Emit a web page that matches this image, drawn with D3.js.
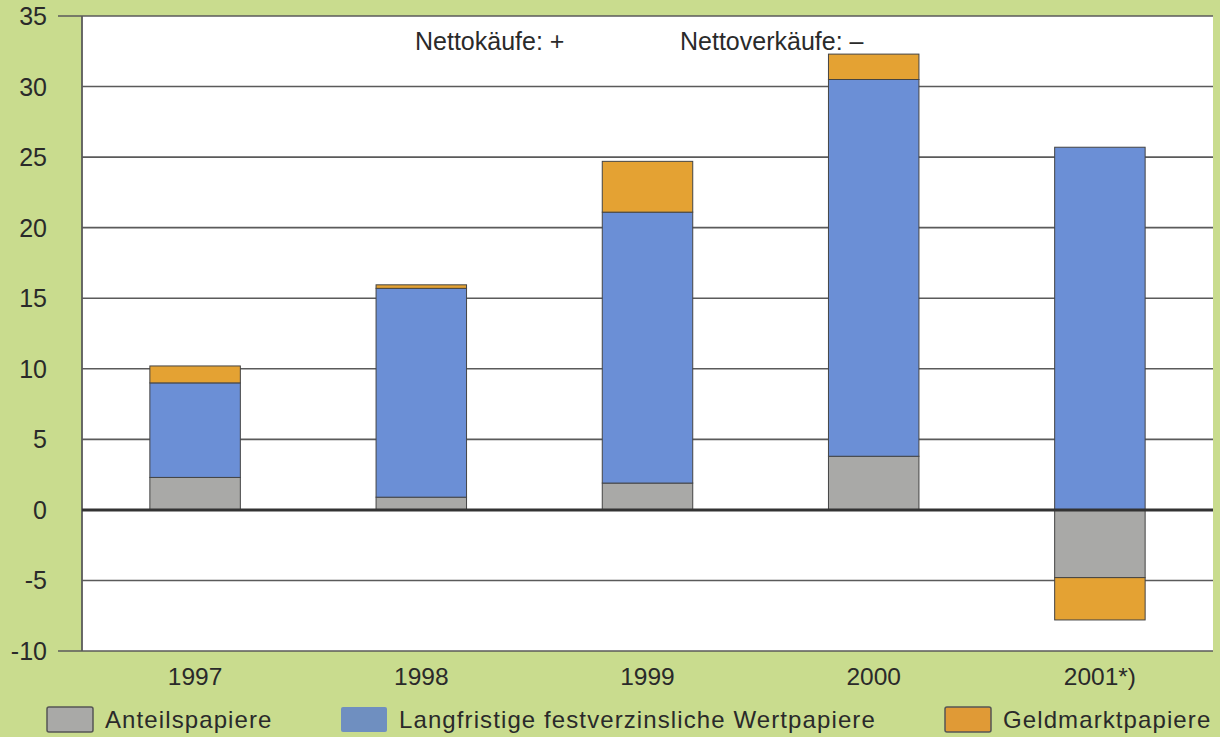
<!DOCTYPE html>
<html>
<head>
<meta charset="utf-8">
<script src="https://cdn.jsdelivr.net/npm/d3@7"></script>
<style>
  html, body { margin: 0; padding: 0; background: #c9dc8e; }
  svg { display: block; }
  text { font-family: "Liberation Sans", Arial, Helvetica, sans-serif; fill: #2a2a2a; }
</style>
</head>
<body>
<svg id="chart" width="1220" height="737"></svg>
<script>
// Net purchases by security type, billions
const years = ["1997", "1998", "1999", "2000", "2001*)"];
const anteilspapiere = [2.3, 0.9, 1.9, 3.8, -4.8];
const langfristige = [6.7, 14.8, 19.2, 26.7, 25.7];
const geldmarkt = [1.2, 0.25, 3.6, 1.8, -3.0];
const yTicks = [-10, -5, 0, 5, 10, 15, 20, 25, 30, 35];

const seriesNames = ["Anteilspapiere", "Langfristige festverzinsliche Wertpapiere", "Geldmarktpapiere"];
const seriesColors = ["#a9a9a7", "#6b8fd6", "#e4a233"];
const legendColors = ["#a9a9a7", "#6f8fc0", "#e09a36"];

const svg = d3.select("#chart");
const plotLeft = 82, plotRight = 1213, plotTop = 16, plotBottom = 651;

const x = d3.scaleBand().domain(years).range([plotLeft, plotRight]).paddingInner(0.6).paddingOuter(0.3);
const y = d3.scaleLinear().domain([-10, 35]).range([plotBottom, plotTop]);

// plot background
svg.append("rect").attr("x", plotLeft).attr("y", plotTop)
  .attr("width", plotRight - plotLeft).attr("height", plotBottom - plotTop).attr("fill", "#ffffff");

// horizontal grid lines
svg.append("g").selectAll("line").data(yTicks.filter(d => d !== 0)).join("line")
  .attr("x1", d => (d === 35 || d === -10) ? 58 : plotLeft)
  .attr("x2", plotRight)
  .attr("y1", d => y(d)).attr("y2", d => y(d))
  .attr("stroke", "#5a5a5a").attr("stroke-width", 1.6);

// left border
svg.append("line").attr("x1", plotLeft).attr("x2", plotLeft).attr("y1", plotTop).attr("y2", plotBottom)
  .attr("stroke", "#5a5a5a").attr("stroke-width", 1.8);

// stacked bars: positives upward from zero, negatives downward
const rows = years.map((yr, i) => ({ yr, vals: [anteilspapiere[i], langfristige[i], geldmarkt[i]] }));
const segs = [];
rows.forEach(r => {
  let pos = 0, neg = 0;
  r.vals.forEach((v, k) => {
    if (v >= 0) { segs.push({ yr: r.yr, k, y0: pos, y1: pos + v }); pos += v; }
    else { segs.push({ yr: r.yr, k, y0: neg + v, y1: neg }); neg += v; }
  });
});

svg.append("g").selectAll("rect").data(segs.filter(s => s.y1 !== s.y0)).join("rect")
  .attr("x", d => x(d.yr))
  .attr("width", x.bandwidth())
  .attr("y", d => y(d.y1))
  .attr("height", d => y(d.y0) - y(d.y1))
  .attr("fill", d => seriesColors[d.k])
  .attr("stroke", "#444").attr("stroke-width", 1);

// zero line
svg.append("line").attr("x1", plotLeft).attr("x2", plotRight).attr("y1", y(0)).attr("y2", y(0))
  .attr("stroke", "#333").attr("stroke-width", 3);

// y axis labels
svg.append("g").selectAll("text").data(yTicks).join("text")
  .attr("x", 47).attr("y", d => y(d)).attr("dy", "0.36em")
  .attr("text-anchor", "end").attr("font-size", 25)
  .text(d => d);

// x axis labels
svg.append("g").selectAll("text").data(years).join("text")
  .attr("x", d => x(d) + x.bandwidth() / 2).attr("y", 685)
  .attr("text-anchor", "middle").attr("font-size", 24.5)
  .text(d => d);

// annotations
svg.append("text").attr("x", 415).attr("y", 50).attr("font-size", 25).text("Nettokäufe: +");
svg.append("text").attr("x", 680).attr("y", 50).attr("font-size", 25).text("Nettoverkäufe: –");

// legend
const legendX = [47, 341, 945];
const lg = svg.append("g").selectAll("g").data(seriesNames).join("g")
  .attr("transform", (d, i) => `translate(${legendX[i]},707)`);
lg.append("rect").attr("width", 46).attr("height", 25).attr("rx", 2)
  .attr("fill", (d, i) => legendColors[i])
  .attr("stroke", (d, i) => i === 1 ? "none" : "#555").attr("stroke-width", 1.5);
lg.append("text").attr("x", 58).attr("y", 21).attr("font-size", 24)
  .attr("letter-spacing", 1.1)
  .text(d => d);
</script>
</body>
</html>
